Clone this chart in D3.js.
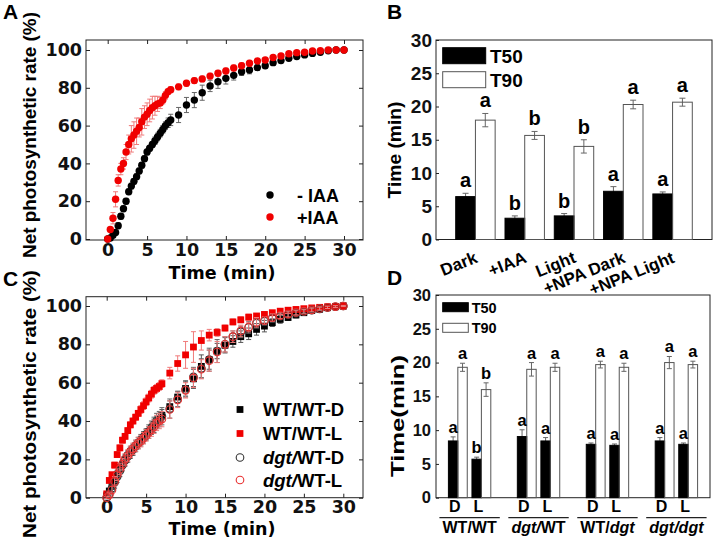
<!DOCTYPE html>
<html>
<head>
<meta charset="utf-8">
<script src="https://cdn.jsdelivr.net/npm/d3@7"></script>
<style>
  body { margin: 0; background: #fff; }
  svg { display: block; }
</style>
</head>
<body>
<svg width="714" height="542"></svg>
<script>
// ---- panel A : net photosynthetic rate, -IAA / +IAA
const timesA = [0, 0.33, 0.67, 1, 1.33, 1.67, 2, 2.33, 2.67, 3, 3.33, 3.67, 4, 4.33, 4.67, 5, 5.33, 5.67, 6, 6.33, 6.67, 7, 7.33, 7.67, 8,
  9, 10, 11, 12, 13, 14, 15, 16, 17, 18, 19, 20, 21, 22, 23, 24, 25, 26, 27, 28, 29, 30];
const minusIAA = [0, 0.5, 2, 3.5, 7, 12, 16, 20, 25, 28, 30.5, 33, 36, 39, 42.5, 46, 48, 50, 52, 54, 56, 58, 60, 61.5, 63,
  65.6, 70.9, 73.5, 77.4, 81, 83.2, 85, 86.6, 88.5, 89.4, 90.7, 91.7, 93.3, 94.4, 95.6, 96.5, 97.4, 98.2, 98.8, 99.6, 100, 100];
const minusIAAErr = [0, 0.5, 1, 1, 1.5, 1.5, 1.5, 1.5, 1.5, 1.5, 1.5, 1.5, 1.5, 1.5, 1.5, 1.5, 1.5, 1.5, 2, 2, 2, 2, 2, 2.5, 3,
  4, 4, 4, 4, 3, 3.5, 3, 2.5, 2, 2, 1.5, 1.5, 1.5, 1.2, 1.2, 1, 1, 1, 0.8, 0.6, 0.5, 0.3];
const plusIAA = [0, 5, 11, 21, 31, 37, 40, 46, 50, 53, 55, 57, 59, 62, 64.5, 66, 68, 69.5, 70.5, 71.5, 72, 73.5, 76, 78, 79,
  80.5, 82.4, 83.8, 84.7, 86.2, 87.7, 88.9, 90.5, 91.7, 93, 94.2, 94.7, 96, 96.8, 98, 98.6, 98.8, 99.5, 99.6, 100, 100, 100];
const plusIAAErr = [0, 1, 3, 4, 3, 3, 3, 4, 5, 7, 7, 7, 5, 7, 6, 6, 6, 6, 5, 4, 3, 2, 2, 1.5, 1.5,
  1.5, 1.5, 1.5, 1.5, 1.5, 1.5, 1.5, 1.5, 1.5, 1.5, 1.2, 1.2, 1, 1, 1, 0.8, 0.8, 0.5, 0.5, 0.5, 0.3, 0.3];

// ---- panel C : grafts, dark / light
const timesC = [0, 0.33, 0.67, 1, 1.33, 1.67, 2, 2.33, 2.67, 3, 3.33, 3.67, 4, 4.33, 4.67, 5, 5.33, 5.67, 6, 6.33, 6.67, 7,
  8, 9, 10, 11, 12, 13, 14, 15, 16, 17, 18, 19, 20, 21, 22, 23, 24, 25, 26, 27, 28, 29, 30];
const wtD = [1, 3.5, 6, 9, 12, 15, 17.5, 20, 22, 24, 25.5, 27, 28.5, 30, 31.5, 33, 34.5, 36, 38, 39.5, 41, 43,
  47.5, 52.5, 57, 62, 68.5, 72, 76.5, 79.5, 81.5, 84, 85.5, 87.8, 89.5, 91.3, 93, 94, 95.3, 96.5, 97.6, 98.3, 99.1, 99.6, 100];
const wtDErr = [0.5, 1, 1.5, 2, 2, 2, 2, 2, 2, 2, 2, 2, 2, 2, 2, 2.5, 2.5, 2.5, 3, 3, 3, 3,
  3, 3, 4, 5, 6, 5, 4, 4, 3, 3, 3, 3, 3, 2, 2, 1.5, 1.5, 1.2, 1, 1, 0.8, 0.5, 0.3];
const wtL = [2, 9, 12, 17, 22.5, 26, 30, 32, 35, 38, 40, 42, 44, 46, 48, 50, 52, 54, 56, 57, 58, 59.5,
  65, 70, 74.5, 78.6, 82, 84.8, 86.2, 88.5, 91.7, 92.8, 94.2, 94.8, 95.6, 96.5, 97.3, 97.8, 98.2, 98.6, 99, 99.3, 99.6, 99.8, 100];
const wtLErr = [0.5, 1, 1, 1.5, 1.5, 1.5, 1.5, 1.5, 1.5, 1.5, 1.5, 1.5, 1.5, 2, 2, 2, 2, 2, 2, 2, 2, 2,
  3, 4, 7, 8, 5, 3, 2, 1.5, 1.5, 1.5, 1.5, 1.2, 1.2, 1, 1, 1, 0.8, 0.8, 0.6, 0.5, 0.5, 0.3, 0.3];
const dgtD = [0, 2, 5, 8, 11, 14, 17, 19.5, 21.5, 23.5, 25, 27, 28.5, 30, 31.5, 33, 34.5, 36.5, 38, 40, 41, 42.5,
  46.5, 51.5, 56.5, 63, 67.5, 72, 76.5, 80, 84, 86.5, 88.8, 91, 92, 93.6, 94.6, 95.5, 96.3, 97, 97.8, 98.5, 99.2, 99.6, 100];
const dgtDErr = [0.5, 1, 2, 3, 3, 3, 3, 3, 3, 3, 3, 3, 3, 3, 3, 3, 3.5, 3.5, 4, 4, 4, 4.5,
  5, 4, 4, 5, 5, 6, 6, 4, 3, 3, 3, 2.5, 2, 2, 1.5, 1.5, 1.2, 1, 1, 0.8, 0.6, 0.5, 0.3];
const dgtL = [0, 1.5, 4, 8.5, 12, 15, 17.5, 20, 22, 24, 25.5, 27, 28.5, 29.5, 31, 32.5, 34, 35.5, 37, 39, 40, 41,
  46, 51, 56, 62.5, 67, 71.5, 76, 80, 84, 87, 89, 91.5, 92.5, 94, 95, 95.8, 96.6, 97.3, 98, 98.7, 99.3, 99.7, 100];
const dgtLErr = [0.5, 1, 2, 2.5, 3, 3, 3, 3, 3, 3, 3, 3, 3, 3, 3, 3, 3, 3.5, 3.5, 4, 4, 4,
  4.5, 4, 4, 5, 5, 5.5, 5.5, 4, 3, 3, 2.5, 2.5, 2, 2, 1.5, 1.5, 1.2, 1, 1, 0.8, 0.6, 0.5, 0.3];

const curveXTicks = [0, 5, 10, 15, 20, 25, 30];
const curveYTicks = [0, 20, 40, 60, 80, 100];

// ---- panel B : T50 / T90
const bCats = ["Dark", "+IAA", "Light", "+NPA Dark", "+NPA Light"];
const bT50 = [6.45, 3.2, 3.55, 7.25, 6.85];
const bT50Err = [0.5, 0.35, 0.35, 0.7, 0.3];
const bT90 = [17.95, 15.65, 14.0, 20.3, 20.65];
const bT90Err = [1.0, 0.6, 1.0, 0.65, 0.6];
const bT50Sig = ["a", "b", "b", "a", "a"];
const bT90Sig = ["a", "b", "b", "a", "a"];

// ---- panel D : grafts T50 / T90
const dGroups = ["WT/WT", "dgt/WT", "WT/dgt", "dgt/dgt"];
const dConds = ["D", "L"];
const dT50 = [[8.4, 5.7], [9.05, 8.4], [7.9, 7.75], [8.4, 7.9]];
const dT50Err = [[0.6, 0.3], [1.0, 0.5], [0.2, 0.2], [0.5, 0.2]];
const dT90 = [[19.3, 16.0], [19.0, 19.3], [19.7, 19.3], [20.0, 19.7]];
const dT90Err = [[0.6, 1.0], [1.0, 0.6], [0.5, 0.6], [0.9, 0.5]];
const dT50Sig = [["a", "b"], ["a", "a"], ["a", "a"], ["a", "a"]];
const dT90Sig = [["a", "b"], ["a", "a"], ["a", "a"], ["a", "a"]];
// group label pieces: [text, italic]
const dGroupParts = [[["WT/WT", false]], [["dgt/", true], ["WT", false]], [["WT/", false], ["dgt", true]], [["dgt/dgt", true]]];

const barTicks = [0, 5, 10, 15, 20, 25, 30];

const RED = "#f00000";
const TICKF = "DejaVu Sans, sans-serif";
const ARIAL = "Arial, Liberation Sans, sans-serif";

const svg = d3.select("svg");

function styleAxis(sel, font, size) {
  sel.select(".domain").remove();
  sel.selectAll("line").attr("stroke", "#222");
  sel.selectAll("text")
    .style("font-family", font)
    .attr("font-weight", "bold")
    .attr("font-size", size)
    .attr("fill", "#111");
}

function frame(box) {
  svg.append("rect")
    .attr("x", box.l).attr("y", box.t)
    .attr("width", box.r - box.l).attr("height", box.b - box.t)
    .attr("fill", "none").attr("stroke", "#222").attr("stroke-width", 1);
}

function vLabel(txt, x, y, len, size) {
  svg.append("text")
    .attr("transform", `translate(${x},${y}) rotate(-90)`)
    .attr("text-anchor", "middle")
    .style("font-family", ARIAL).attr("font-weight", "bold").attr("font-size", size)
    .attr("textLength", len).attr("lengthAdjust", "spacingAndGlyphs")
    .text(txt);
}

function panelLetter(txt, x, y) {
  svg.append("text").attr("x", x).attr("y", y)
    .style("font-family", ARIAL).attr("font-weight", "bold").attr("font-size", 21)
    .text(txt);
}

function marker(g, shape, color, cx, cy) {
  if (shape === "dot") {
    g.append("circle").attr("cx", cx).attr("cy", cy).attr("r", 3.7).attr("fill", color);
  } else if (shape === "square") {
    g.append("rect").attr("x", cx - 3.4).attr("y", cy - 3.4).attr("width", 6.8).attr("height", 6.8).attr("fill", color);
  } else {
    g.append("circle").attr("cx", cx).attr("cy", cy).attr("r", 3.8)
      .attr("fill", "none").attr("stroke", color).attr("stroke-width", 1.1);
  }
}

function curvePanel(box, xr, yr, series, xPad) {
  const x = d3.scaleLinear().domain([0, 30]).range(xr);
  const y = d3.scaleLinear().domain([0, 100]).range(yr);

  svg.append("g").attr("transform", `translate(${box.l},0)`)
    .call(d3.axisLeft(y).tickValues(curveYTicks).tickSizeInner(-4).tickSizeOuter(0).tickPadding(4))
    .call(styleAxis, TICKF, 17.5);
  svg.append("g").attr("transform", `translate(${box.r},0)`)
    .call(d3.axisRight(y).tickValues(curveYTicks).tickSizeInner(-4).tickSizeOuter(0).tickFormat(""))
    .call(styleAxis, TICKF, 17.5);
  svg.append("g").attr("transform", `translate(0,${box.b})`)
    .call(d3.axisBottom(x).tickValues(curveXTicks).tickSizeInner(-4).tickSizeOuter(0).tickPadding(xPad))
    .call(styleAxis, TICKF, 17.5);
  svg.append("g").attr("transform", `translate(0,${box.t})`)
    .call(d3.axisTop(x).tickValues(curveXTicks).tickSizeInner(-4).tickSizeOuter(0).tickFormat(""))
    .call(styleAxis, TICKF, 17.5);
  frame(box);

  series.forEach(s => {
    const pts = s.t.map((t, i) => ({ t: t, v: s.v[i], e: s.e[i] }));
    const g = svg.append("g");
    const eg = g.append("g").attr("stroke", s.errColor).attr("stroke-width", 1);
    pts.filter(d => d.e > 0).forEach(d => {
      const cx = x(d.t);
      const top = y(Math.min(d.v + d.e, 100.5)), bot = y(d.v - d.e);
      eg.append("line").attr("x1", cx).attr("x2", cx).attr("y1", top).attr("y2", bot);
      eg.append("line").attr("x1", cx - 2.5).attr("x2", cx + 2.5).attr("y1", top).attr("y2", top);
      eg.append("line").attr("x1", cx - 2.5).attr("x2", cx + 2.5).attr("y1", bot).attr("y2", bot);
    });
    pts.forEach(d => marker(g, s.shape, s.color, x(d.t), y(d.v)));
  });
  return { x, y };
}

// ================= Panel A =================
const boxA = { l: 86, t: 40, r: 363, b: 240 };
curvePanel(boxA, [107.7, 344], [239, 50], [
  { t: timesA, v: minusIAA, e: minusIAAErr, shape: "dot", color: "#000", errColor: "#666" },
  { t: timesA, v: plusIAA, e: plusIAAErr, shape: "dot", color: RED, errColor: "#f07a7a" }
], 4);
panelLetter("A", 3, 19);
vLabel("Net photosynthetic rate (%)", 36, 135, 246, 19);
svg.append("text").attr("x", 222).attr("y", 279).attr("text-anchor", "middle")
  .style("font-family", TICKF).attr("font-weight", "bold").attr("font-size", 17.5).text("Time (min)");
[["- IAA", "#000", 195], ["+IAA", RED, 217]].forEach(([lab, col, cy]) => {
  svg.append("circle").attr("cx", 270).attr("cy", cy).attr("r", 3.7).attr("fill", col);
  svg.append("text").attr("x", 297).attr("y", cy + 6.5)
    .style("font-family", ARIAL).attr("font-weight", "bold").attr("font-size", 18).text(lab);
});

// ================= Panel C =================
const boxC = { l: 86, t: 296.7, r: 363, b: 497.7 };
curvePanel(boxC, [106.7, 343.3], [497.7, 306], [
  { t: timesC, v: wtD, e: wtDErr, shape: "square", color: "#000", errColor: "#555" },
  { t: timesC, v: wtL, e: wtLErr, shape: "square", color: RED, errColor: "#f07a7a" },
  { t: timesC, v: dgtD, e: dgtDErr, shape: "ring", color: "#333", errColor: "#666" },
  { t: timesC, v: dgtL, e: dgtLErr, shape: "ring", color: "#e83030", errColor: "#f07a7a" }
], 3);
panelLetter("C", 3, 286);
vLabel("Net photosynthetic rate (%)", 36, 404, 268, 19);
svg.append("text").attr("x", 222).attr("y", 535).attr("text-anchor", "middle")
  .style("font-family", TICKF).attr("font-weight", "bold").attr("font-size", 17.5).text("Time (min)");
const legC = [
  { parts: [["WT/WT-D", false]], shape: "square", color: "#000", cy: 409.5 },
  { parts: [["WT/WT-L", false]], shape: "square", color: RED, cy: 433.5 },
  { parts: [["dgt/", true], ["WT-D", false]], shape: "ring", color: "#333", cy: 457.5 },
  { parts: [["dgt/", true], ["WT-L", false]], shape: "ring", color: "#e83030", cy: 480 }
];
legC.forEach(d => {
  marker(svg, d.shape, d.color, 240, d.cy);
  const t = svg.append("text").attr("x", 263).attr("y", d.cy + 6.5)
    .style("font-family", ARIAL).attr("font-weight", "bold").attr("font-size", 18.5);
  d.parts.forEach(([s, it]) => t.append("tspan").attr("font-style", it ? "italic" : "normal").text(s));
});

// ================= Panel B =================
const boxB = { l: 436, t: 40, r: 712, b: 239.5 };
const xB = d3.scaleBand().domain(bCats).range([boxB.l, boxB.r]).paddingInner(0.2).paddingOuter(0.4);
const xBs = d3.scaleBand().domain(["T50", "T90"]).range([0, xB.bandwidth()]);
const yB = d3.scaleLinear().domain([0, 30]).range([boxB.b, boxB.t]);

svg.append("g").attr("transform", `translate(${boxB.l},0)`)
  .call(d3.axisLeft(yB).tickValues(barTicks).tickSizeInner(-3).tickSizeOuter(0).tickPadding(4))
  .call(styleAxis, ARIAL, 19);
frame(boxB);

const rowsB = bCats.flatMap((c, i) => [
  { c: c, s: "T50", v: bT50[i], e: bT50Err[i], sig: bT50Sig[i] },
  { c: c, s: "T90", v: bT90[i], e: bT90Err[i], sig: bT90Sig[i] }
]);

function errBars(g, rows, xf, yf, cap) {
  rows.forEach(d => {
    const cx = xf(d), top = yf(d.v + d.e), bot = yf(d.v - d.e);
    g.append("line").attr("x1", cx).attr("x2", cx).attr("y1", top).attr("y2", bot);
    g.append("line").attr("x1", cx - cap).attr("x2", cx + cap).attr("y1", top).attr("y2", top);
    g.append("line").attr("x1", cx - cap).attr("x2", cx + cap).attr("y1", bot).attr("y2", bot);
  });
}

const bcx = d => xB(d.c) + xBs(d.s) + xBs.bandwidth() / 2;
errBars(svg.append("g").attr("stroke", "#666").attr("stroke-width", 1), rowsB, bcx, yB, 3);
svg.append("g").selectAll("rect").data(rowsB).join("rect")
  .attr("x", d => xB(d.c) + xBs(d.s))
  .attr("y", d => yB(d.v))
  .attr("width", xBs.bandwidth())
  .attr("height", d => yB(0) - yB(d.v))
  .attr("fill", d => d.s === "T50" ? "#000" : "none")
  .attr("stroke", d => d.s === "T50" ? "#000" : "#555")
  .attr("stroke-width", 1);
svg.append("g").selectAll("text").data(rowsB).join("text")
  .attr("x", bcx).attr("y", d => yB(d.v + d.e) - 6)
  .attr("text-anchor", "middle")
  .style("font-family", ARIAL).attr("font-weight", "bold").attr("font-size", 20)
  .text(d => d.sig);
svg.append("g").selectAll("text").data(bCats).join("text")
  .attr("transform", d => `translate(${xB(d) + xB.bandwidth() / 2 + 3},262) rotate(-22)`)
  .attr("text-anchor", "end")
  .style("font-family", ARIAL).attr("font-weight", "bold").attr("font-size", 17)
  .text(d => d);

// legend B
[["T50", "#000", 47.7], ["T90", "#fff", 71.7]].forEach(([lab, fill, y0]) => {
  svg.append("rect").attr("x", 442.7).attr("y", y0).attr("width", 43).attr("height", 16)
    .attr("fill", fill).attr("stroke", fill === "#000" ? "#000" : "#555");
  svg.append("text").attr("x", 490).attr("y", y0 + 15)
    .style("font-family", ARIAL).attr("font-weight", "bold").attr("font-size", 19).text(lab);
});
panelLetter("B", 387, 19);
vLabel("Time (min)", 401, 150, 97, 19);

// ================= Panel D =================
const boxD = { l: 436, t: 295, r: 710, b: 497.7 };
const xD = d3.scaleBand().domain(dGroups).range([boxD.l, boxD.r]).paddingInner(0.385).paddingOuter(0.18);
const xDc = d3.scaleBand().domain(dConds).range([0, xD.bandwidth()]).paddingInner(0.2);
const xDs = d3.scaleBand().domain(["T50", "T90"]).range([0, xDc.bandwidth()]);
const yD = d3.scaleLinear().domain([0, 30]).range([boxD.b, boxD.t]);

svg.append("g").attr("transform", `translate(${boxD.l},0)`)
  .call(d3.axisLeft(yD).tickValues(barTicks).tickSizeInner(-3).tickSizeOuter(0).tickPadding(5))
  .call(styleAxis, ARIAL, 16.5);
frame(boxD);

const rowsD = [];
dGroups.forEach((g, gi) => dConds.forEach((c, ci) => {
  rowsD.push({ g: g, c: c, s: "T50", v: dT50[gi][ci], e: dT50Err[gi][ci], sig: dT50Sig[gi][ci] });
  rowsD.push({ g: g, c: c, s: "T90", v: dT90[gi][ci], e: dT90Err[gi][ci], sig: dT90Sig[gi][ci] });
}));
const dx = d => xD(d.g) + xDc(d.c) + xDs(d.s);
const dcx = d => dx(d) + xDs.bandwidth() / 2;
errBars(svg.append("g").attr("stroke", "#666").attr("stroke-width", 1), rowsD, dcx, yD, 2.5);
svg.append("g").selectAll("rect").data(rowsD).join("rect")
  .attr("x", dx)
  .attr("y", d => yD(d.v))
  .attr("width", xDs.bandwidth())
  .attr("height", d => yD(0) - yD(d.v))
  .attr("fill", d => d.s === "T50" ? "#000" : "none")
  .attr("stroke", d => d.s === "T50" ? "#000" : "#555")
  .attr("stroke-width", 1);
svg.append("g").selectAll("text").data(rowsD).join("text")
  .attr("x", dcx).attr("y", d => yD(d.v + d.e) - 4)
  .attr("text-anchor", "middle")
  .style("font-family", ARIAL).attr("font-weight", "bold").attr("font-size", 16.5)
  .text(d => d.sig);

// condition letters, underlines, group names
dGroups.forEach((g, gi) => {
  dConds.forEach(c => {
    svg.append("text").attr("x", xD(g) + xDc(c) + xDc.bandwidth() / 2 - 3).attr("y", 512)
      .attr("text-anchor", "middle")
      .style("font-family", ARIAL).attr("font-weight", "bold").attr("font-size", 16).text(c);
  });
  svg.append("line").attr("x1", xD(g) - 9).attr("x2", xD(g) + xD.bandwidth() + 9)
    .attr("y1", 517.7).attr("y2", 517.7).attr("stroke", "#222").attr("stroke-width", 1.3);
  const t = svg.append("text").attr("x", xD(g) + xD.bandwidth() / 2).attr("y", 532.5)
    .attr("text-anchor", "middle")
    .style("font-family", ARIAL).attr("font-weight", "bold").attr("font-size", 16);
  dGroupParts[gi].forEach(([s, it]) => t.append("tspan").attr("font-style", it ? "italic" : "normal").text(s));
});

// legend D
[["T50", "#000", 302.7], ["T90", "#fff", 323.3]].forEach(([lab, fill, y0]) => {
  svg.append("rect").attr("x", 442.7).attr("y", y0).attr("width", 25.6).attr("height", 9)
    .attr("fill", fill).attr("stroke", fill === "#000" ? "#000" : "#555");
  svg.append("text").attr("x", 471.7).attr("y", y0 + 10)
    .style("font-family", ARIAL).attr("font-weight", "bold").attr("font-size", 14.5).text(lab);
});
panelLetter("D", 387, 285);
vLabel("Time(min)", 404, 416, 122, 19);
</script>
</body>
</html>
